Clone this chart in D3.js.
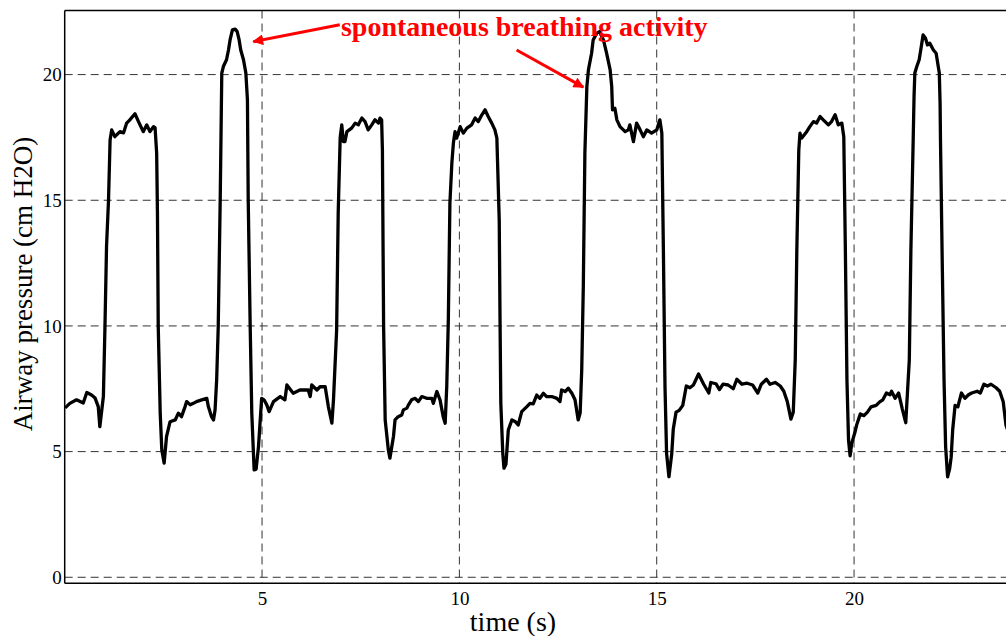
<!DOCTYPE html>
<html>
<head>
<meta charset="utf-8">
<style>
    body { margin: 0; background: #fff; }
    text { font-family: "Liberation Serif", "Times New Roman", serif; }
</style>
</head>
<body>
    <svg id="container" width="1006" height="636"></svg>
<script src="https://cdn.jsdelivr.net/npm/d3@7"></script>
<script>
    // time (s) and airway pressure (cm H2O)
    let timeS = [
        0.01, 0.13, 0.30, 0.47, 0.56, 0.68, 0.77, 0.85, 0.89, 0.98,
        1.02, 1.06, 1.11, 1.15, 1.19, 1.27, 1.40, 1.49, 1.57, 1.65,
        1.78, 1.87, 1.99, 2.08, 2.16, 2.25, 2.29, 2.33, 2.35, 2.37,
        2.42, 2.46, 2.52, 2.58, 2.67, 2.80, 2.88, 2.96, 3.05, 3.09,
        3.18, 3.26, 3.34, 3.47, 3.60, 3.64, 3.72, 3.77, 3.81, 3.85,
        3.89, 3.94, 3.98, 4.02, 4.10, 4.15, 4.19, 4.25, 4.32, 4.37,
        4.42, 4.46, 4.53, 4.59, 4.63, 4.65, 4.70, 4.74, 4.80, 4.85,
        4.91, 4.99, 5.05, 5.12, 5.18, 5.29, 5.46, 5.58, 5.63, 5.79,
        5.96, 6.17, 6.22, 6.26, 6.39, 6.47, 6.60, 6.68, 6.77, 6.81,
        6.89, 6.93, 6.98, 7.02, 7.06, 7.10, 7.15, 7.27, 7.36, 7.44,
        7.53, 7.61, 7.69, 7.78, 7.86, 7.95, 7.99, 8.03, 8.05, 8.08,
        8.12, 8.20, 8.24, 8.33, 8.37, 8.45, 8.54, 8.58, 8.67, 8.71,
        8.79, 8.88, 8.96, 9.05, 9.17, 9.30, 9.34, 9.43, 9.51, 9.59,
        9.64, 9.68, 9.72, 9.76, 9.81, 9.85, 9.89, 9.93, 10.02, 10.10,
        10.19, 10.31, 10.40, 10.48, 10.57, 10.65, 10.73, 10.82, 10.90, 10.95,
        11.01, 11.03, 11.05, 11.10, 11.13, 11.18, 11.24, 11.33, 11.41, 11.49,
        11.58, 11.71, 11.79, 11.87, 11.96, 12.04, 12.13, 12.21, 12.34, 12.47,
        12.55, 12.59, 12.68, 12.76, 12.85, 12.93, 13.01, 13.06, 13.10, 13.14,
        13.18, 13.23, 13.27, 13.35, 13.39, 13.48, 13.55, 13.65, 13.73, 13.82,
        13.86, 13.88, 13.94, 13.99, 14.07, 14.20, 14.28, 14.32, 14.41, 14.49,
        14.58, 14.66, 14.75, 14.87, 15.00, 15.08, 15.13, 15.17, 15.21, 15.25,
        15.31, 15.38, 15.42, 15.49, 15.57, 15.66, 15.75, 15.84, 15.93, 16.06,
        16.19, 16.32, 16.37, 16.50, 16.59, 16.68, 16.81, 16.94, 17.03, 17.16,
        17.29, 17.43, 17.56, 17.65, 17.78, 17.87, 18.00, 18.13, 18.22, 18.31,
        18.40, 18.46, 18.51, 18.55, 18.60, 18.63, 18.67, 18.80, 18.88, 18.97,
        19.05, 19.14, 19.22, 19.35, 19.43, 19.52, 19.60, 19.69, 19.74, 19.78,
        19.82, 19.86, 19.90, 19.94, 20.03, 20.07, 20.16, 20.25, 20.34, 20.43,
        20.56, 20.65, 20.73, 20.82, 20.91, 20.95, 21.04, 21.13, 21.22, 21.31,
        21.35, 21.40, 21.44, 21.50, 21.52, 21.54, 21.59, 21.65, 21.69, 21.75,
        21.81, 21.86, 21.92, 22.01, 22.08, 22.12, 22.16, 22.18, 22.19, 22.23,
        22.28, 22.32, 22.37, 22.42, 22.46, 22.50, 22.56, 22.63, 22.72, 22.81,
        22.90, 22.98, 23.12, 23.20, 23.29, 23.38, 23.47, 23.60, 23.69, 23.78,
        23.85, 23.95
    ]
    let pressure = [
        6.74, 6.92, 7.06, 6.93, 7.35, 7.25, 7.13, 6.79, 5.99, 7.19,
        9.97, 13.16, 15.0, 17.4, 17.8, 17.53, 17.73, 17.68, 18.07, 18.2,
        18.44, 18.13, 17.73, 18.0, 17.73, 17.93, 17.88, 16.87, 14.5, 9.97,
        6.53, 5.07, 4.54, 5.6, 6.19, 6.26, 6.53, 6.39, 6.79, 6.99,
        6.86, 6.92, 6.99, 7.06, 7.12, 6.79, 6.39, 6.26, 6.66, 7.85,
        9.97, 15.0, 20.06, 20.32, 20.59, 20.98, 21.38, 21.78, 21.81, 21.71,
        21.38, 20.98, 20.59, 20.06, 19.0, 15.0, 9.97, 6.54, 4.27, 4.3,
        5.2, 7.12, 7.06, 6.86, 6.59, 6.99, 7.19, 7.06, 7.65, 7.32,
        7.45, 7.45, 7.19, 7.65, 7.45, 7.58, 7.58, 6.79, 6.13, 7.06,
        9.84, 14.5, 17.5, 18.0, 17.33, 17.33, 17.73, 17.87, 18.07, 18.0,
        18.27, 18.13, 17.8, 18.0, 18.2, 18.07, 18.27, 18.2, 17.0, 10.0,
        6.26, 5.07, 4.74, 5.6, 6.26, 6.39, 6.46, 6.66, 6.73, 6.86,
        7.06, 7.12, 6.99, 7.19, 7.12, 7.12, 6.92, 7.39, 7.06, 6.39,
        6.13, 7.58, 10.24, 14.88, 16.5, 17.3, 17.73, 17.47, 17.93, 17.67,
        17.87, 18.0, 18.27, 18.13, 18.4, 18.6, 18.33, 18.07, 17.8, 17.47,
        14.2, 10.25, 6.92, 4.93, 4.34, 4.5, 5.86, 6.26, 6.2, 6.06,
        6.59, 6.79, 6.92, 6.9, 7.25, 7.12, 7.32, 7.19, 7.19, 7.12,
        6.99, 7.45, 7.39, 7.52, 7.32, 7.06, 6.26, 6.53, 8.25, 11.56,
        16.87, 19.52, 20.19, 20.85, 21.38, 21.65, 21.71, 21.38, 20.85, 20.19,
        19.52, 18.6, 18.66, 18.2, 17.93, 17.73, 17.8, 18.0, 17.33, 18.07,
        17.8, 17.53, 17.8, 17.67, 17.8, 18.2, 17.67, 12.9, 7.58, 4.93,
        4.0, 4.9, 5.9, 6.57, 6.64, 6.84, 7.61, 7.54, 7.65, 8.09,
        7.68, 7.33, 7.75, 7.7, 7.47, 7.68, 7.65, 7.5, 7.88, 7.68,
        7.72, 7.65, 7.33, 7.68, 7.88, 7.68, 7.75, 7.61, 7.4, 6.98,
        6.29, 6.57, 8.65, 13.0, 17.0, 17.67, 17.47, 17.73, 17.93, 18.13,
        18.07, 18.33, 18.2, 18.0, 18.13, 18.4, 18.0, 18.07, 17.53, 13.0,
        7.85, 5.46, 4.83, 5.32, 5.81, 6.08, 6.5, 6.43, 6.57, 6.78,
        6.84, 6.98, 7.06, 7.33, 7.26, 7.4, 7.12, 7.33, 6.71, 6.15,
        7.26, 8.65, 13.0, 17.53, 19.12, 20.06, 20.32, 20.59, 20.98, 21.58,
        21.45, 21.18, 21.25, 20.98, 20.85, 20.45, 20.06, 18.86, 17.4, 13.0,
        7.85, 5.2, 4.0, 4.3, 4.77, 5.88, 6.84, 6.78, 7.33, 7.12,
        7.26, 7.33, 7.4, 7.33, 7.68, 7.61, 7.68, 7.54, 7.4, 6.98,
        6.05, 5.6
    ]
    let xTicks = [5, 10, 15, 20]
    let yTicks = [0, 5, 10, 15, 20]
    let annotationText = "spontaneous breathing activity"
    // arrow [tail, tip] in data units (s, cm H2O)
    let arrows = [
        [[6.97, 21.98], [4.78, 21.31]],
        [[11.45, 20.98], [13.14, 19.50]]
    ]

    let margin = { left: 64.7, top: 10.5 }
    let width = 1006 - margin.left
    let height = 572.8

    let svg = d3.select("#container")
    let body = svg.append("g").attr("transform", `translate(${margin.left},${margin.top})`)

    let xScale = d3.scaleLinear().domain([0, 23.85]).range([0, width])
    let yScale = d3.scaleLinear().domain([-0.24, 22.55]).range([height, 0])

    let defs = svg.append("defs")
    defs.append("clipPath").attr("id", "plotClip")
        .append("rect").attr("width", width).attr("height", height)
    defs.append("marker")
        .attr("id", "head")
        .attr("viewBox", "0 0 10 10")
        .attr("refX", 9).attr("refY", 5)
        .attr("markerWidth", 4.6).attr("markerHeight", 3.6)
        .attr("markerUnits", "strokeWidth")
        .attr("orient", "auto")
        .append("path").attr("d", "M0,0 L10,5 L0,10 Z").attr("fill", "#ff0000")

    // grid
    body.selectAll(".hgrid").data(yTicks).enter().append("line")
        .attr("x1", 0).attr("x2", width)
        .attr("y1", d => yScale(d)).attr("y2", d => yScale(d))
        .attr("stroke", "#333").attr("stroke-width", 1)
        .attr("stroke-dasharray", "8,5")
    body.selectAll(".vgrid").data(xTicks).enter().append("line")
        .attr("x1", d => xScale(d)).attr("x2", d => xScale(d))
        .attr("y1", 0).attr("y2", height)
        .attr("stroke", "#333").attr("stroke-width", 1)
        .attr("stroke-dasharray", "8,5")

    // axes
    let xAxis = body.append("g").attr("transform", `translate(0,${height})`)
        .call(d3.axisBottom(xScale).tickValues(xTicks).tickSize(0).tickPadding(8))
    let yAxis = body.append("g")
        .call(d3.axisLeft(yScale).tickValues(yTicks).tickSize(0).tickPadding(3))
    svg.selectAll(".tick text")
        .style("font-family", "'Liberation Serif', 'Times New Roman', serif")
        .style("font-size", "19px")
        .attr("fill", "#000")
    xAxis.select(".domain").remove()
    yAxis.select(".domain").remove()

    body.append("line").attr("x1", 0).attr("x2", 0).attr("y1", 0).attr("y2", height)
        .attr("stroke", "#000").attr("stroke-width", 1.5)
    body.append("line").attr("x1", 0).attr("x2", width).attr("y1", height).attr("y2", height)
        .attr("stroke", "#000").attr("stroke-width", 1.5)
    body.append("line").attr("x1", 0).attr("x2", width).attr("y1", 0).attr("y2", 0)
        .attr("stroke", "#000").attr("stroke-width", 1.5)

    // trace
    let points = timeS.map((t, i) => [t, pressure[i]])
    let line = d3.line().x(d => xScale(d[0])).y(d => yScale(d[1]))
    body.append("path")
        .datum(points)
        .attr("clip-path", "url(#plotClip)")
        .attr("d", line)
        .attr("fill", "none")
        .attr("stroke", "#000")
        .attr("stroke-width", 3.3)
        .attr("stroke-linejoin", "round")

    // annotation
    body.selectAll(".arrow").data(arrows).enter().append("line")
        .attr("x1", d => xScale(d[0][0])).attr("y1", d => yScale(d[0][1]))
        .attr("x2", d => xScale(d[1][0])).attr("y2", d => yScale(d[1][1]))
        .attr("stroke", "#ff0000").attr("stroke-width", 3)
        .attr("marker-end", "url(#head)")
    body.append("text")
        .attr("x", xScale(7.0)).attr("y", yScale(21.55))
        .attr("fill", "#ff0000")
        .attr("font-weight", "bold")
        .style("font-size", "28px")
        .text(annotationText)

    // axis titles
    svg.append("text")
        .attr("x", 513).attr("y", 631)
        .attr("text-anchor", "middle")
        .style("font-size", "28px")
        .text("time (s)")
    svg.append("text")
        .attr("transform", "translate(32,284) rotate(-90)")
        .attr("text-anchor", "middle")
        .style("font-size", "27px")
        .text("Airway pressure (cm H2O)")
</script>
</body>
</html>
